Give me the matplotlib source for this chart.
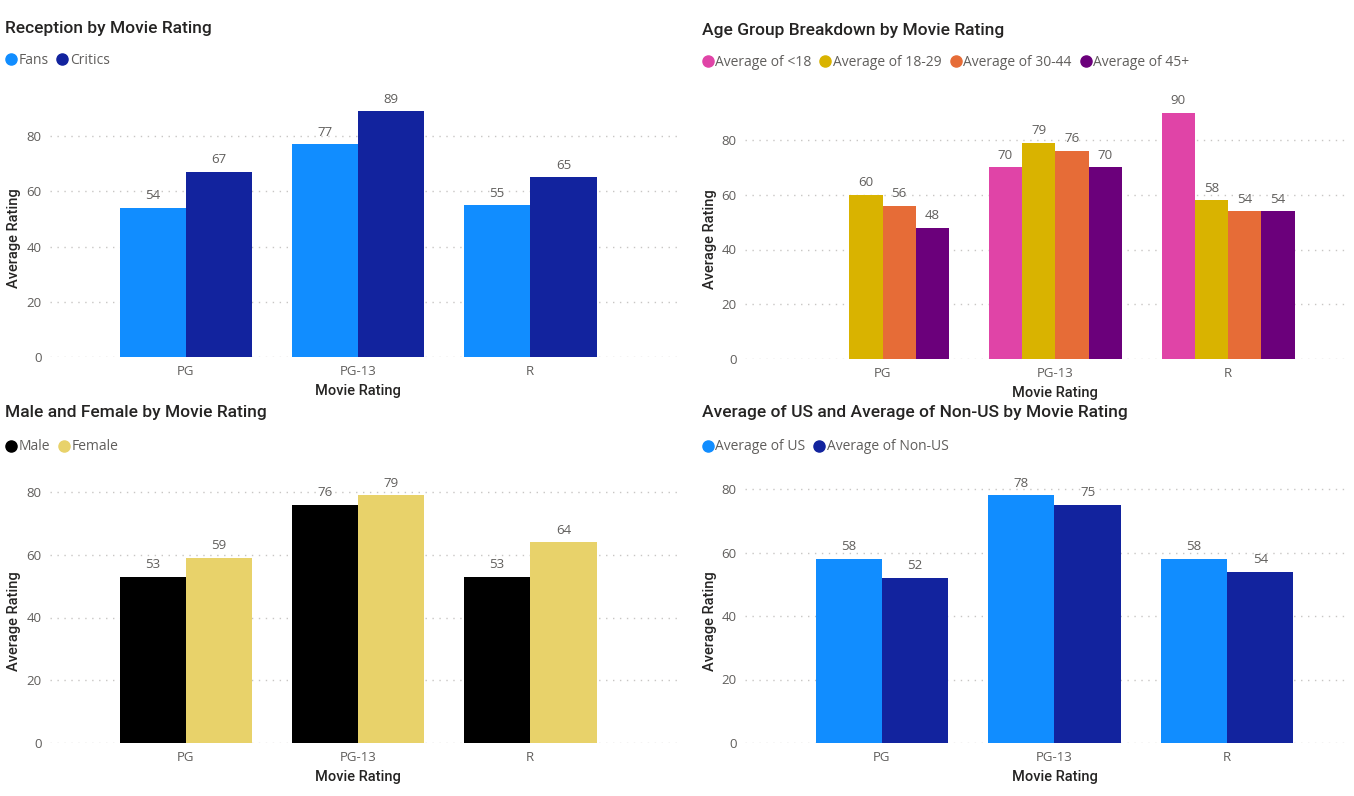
import matplotlib
matplotlib.use("Agg")
import matplotlib.pyplot as plt
from matplotlib.lines import Line2D
import numpy as np

W, H = 1354, 796
DPI = 100

categories = ["PG", "PG-13", "R"]

# Panel 1
fans = [54, 77, 55]
critics = [67, 89, 65]

# Panel 2 (PG has no <18 value)
age_lt18 = [None, 70, 90]
age_18_29 = [60, 79, 58]
age_30_44 = [56, 76, 54]
age_45p = [48, 70, 54]

# Panel 3
male = [53, 76, 53]
female = [59, 79, 64]

# Panel 4
us = [58, 78, 58]
non_us = [52, 75, 54]

TITLE_FONT = ["Roboto", "DejaVu Sans"]
BODY_FONT = ["Open Sans", "DejaVu Sans"]
GRAY = "#605E5C"
DARK = "#252423"

fig = plt.figure(figsize=(W / DPI, H / DPI), dpi=DPI)


def fx(x):
    return x / W


def fy(y):
    return 1 - y / H


def panel(left, right, bottom, top, ylim_top, xlim, series, names, colors,
          title, title_xy, legend_xy, ylabel_x, xlabel_y):
    ax = fig.add_axes([fx(left), fy(bottom), fx(right - left), (bottom - top) / H])
    n = len(series)
    width = 0.77 / n
    x = np.arange(len(categories))
    for i, (vals, c) in enumerate(zip(series, colors)):
        offs = (i - (n - 1) / 2) * width
        for xi, v in zip(x, vals):
            if v is None:
                continue
            ax.bar(xi + offs, v, width=width, color=c, zorder=3)
            ax.annotate(f"{v}", (xi + offs, v), xytext=(0, 4), textcoords="offset points",
                        ha="center", va="bottom", fontsize=9.5, color=GRAY,
                        family=BODY_FONT, zorder=4)
    ax.set_xlim(*xlim)
    ax.set_ylim(0, ylim_top)
    ax.set_yticks([0, 20, 40, 60, 80])
    ax.set_xticks(x)
    ax.set_xticklabels(categories)
    for s in ax.spines.values():
        s.set_visible(False)
    ax.tick_params(length=0, labelsize=9.5, labelcolor=GRAY, pad=6)
    for lab in ax.get_xticklabels() + ax.get_yticklabels():
        lab.set_family(BODY_FONT)
    ax.grid(axis="y", color="#C8C6C4", linestyle=(0, (1, 4)), linewidth=1, zorder=0)
    ax.set_axisbelow(True)
    # axis titles
    fig.text(fx(ylabel_x), fy((top + bottom) / 2 + 10), "Average Rating", rotation=90,
             ha="center", va="center", fontsize=10.5, color=DARK, family=TITLE_FONT,
             fontweight="medium")
    x0 = ax.transData.transform((1, 0))[0]
    fig.text(x0 / W, fy(xlabel_y), "Movie Rating", ha="center", va="center",
             fontsize=10.5, color=DARK, family=TITLE_FONT, fontweight="medium")
    fig.text(fx(title_xy[0]), fy(title_xy[1]), title, ha="left", va="center",
             fontsize=12.5, color=DARK, family=TITLE_FONT, fontweight="medium")
    handles = [Line2D([], [], marker="o", linestyle="none", markersize=8,
                      markerfacecolor=c, markeredgecolor=c) for c in colors]
    leg = fig.legend(handles, names, loc="center left",
                     bbox_to_anchor=(fx(legend_xy[0]), fy(legend_xy[1])),
                     ncol=len(names), frameon=False, handlelength=0.8,
                     handletextpad=0.15, columnspacing=0.6, borderpad=0,
                     borderaxespad=0,
                     prop={"family": BODY_FONT, "size": 10})
    for t in leg.get_texts():
        t.set_color(GRAY)
    return ax


panel(50, 680, 357, 100, 257 / 2.7625, (-0.79, 2.87), [fans, critics],
      ["Fans", "Critics"], ["#118DFF", "#12239E"],
      "Reception by Movie Rating", (5, 28), (5, 60), 14, 391)

panel(745, 1345, 359, 100, 259 / 2.7375, (-0.796, 2.677),
      [age_lt18, age_18_29, age_30_44, age_45p],
      ["Average of <18", "Average of 18-29", "Average of 30-44", "Average of 45+"],
      ["#E044A7", "#D9B300", "#E66C37", "#6B007B"],
      "Age Group Breakdown by Movie Rating", (702, 30), (702, 62), 710, 393)

panel(50, 680, 743, 480, 263 / 3.1375, (-0.79, 2.87), [male, female],
      ["Male", "Female"], ["#000000", "#E8D26A"],
      "Male and Female by Movie Rating", (5, 413), (5, 447), 14, 777)

panel(745, 1345, 743, 480, 263 / 3.175, (-0.794, 2.684), [us, non_us],
      ["Average of US", "Average of Non-US"], ["#118DFF", "#12239E"],
      "Average of US and Average of Non-US by Movie Rating", (702, 413), (702, 447), 710, 777)

fig.savefig("out.png", dpi=DPI)
